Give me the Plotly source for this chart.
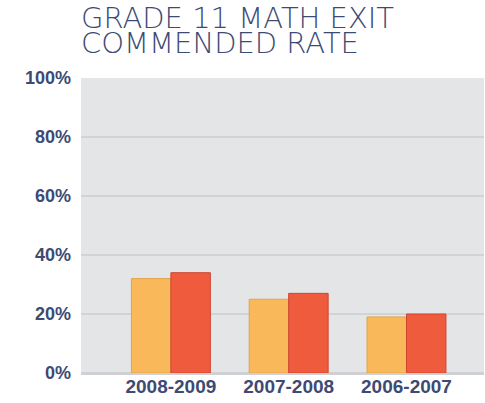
import plotly.graph_objects as go

categories = ["2008-2009", "2007-2008", "2006-2007"]
series_a = [32, 25, 19]
series_b = [34, 27, 20]
tick_vals = [0, 20, 40, 60, 80, 100]
tick_text = ["0%", "20%", "40%", "60%", "80%", "100%"]
title_lines = ["GRADE 11 MATH EXIT", "COMMENDED RATE"]

navy = "#3d4a74"

fig = go.Figure()
fig.add_trace(go.Bar(x=categories, y=series_a, marker=dict(color="#f9b95b", line=dict(color="#e3a24a", width=1))))
fig.add_trace(go.Bar(x=categories, y=series_b, marker=dict(color="#ef5b3d", line=dict(color="#cf4630", width=1))))

W, H = 485, 403
ml, mr, mt, mb = 81, 1, 78, 30
ph = H - mt - mb

annotations = []
for i, (line, ypx) in enumerate(zip(title_lines, [18, 43])):
    annotations.append(dict(
        text=line, xref="paper", yref="paper", x=-0.004, y=1 + (mt - ypx) / ph,
        xanchor="left", yanchor="middle", showarrow=False,
        font=dict(family="DejaVu Sans", size=29, color=navy, weight=300),
    ))

fig.update_layout(
    width=W, height=H, margin=dict(l=ml, r=mr, t=mt, b=mb, autoexpand=False),
    paper_bgcolor="white", plot_bgcolor="#e4e5e7",
    barmode="group", bargap=0.33, bargroupgap=0,
    showlegend=False, annotations=annotations,
    xaxis=dict(type="category", range=[-0.763, 2.658], showgrid=False, ticks="",
               tickfont=dict(family="Liberation Sans", size=19, color=navy, weight="bold"),
               showline=False, zeroline=False),
    yaxis=dict(range=[0, 100], tickvals=tick_vals, ticktext=tick_text,
               showgrid=True, gridcolor="#d2d3d6", gridwidth=2,
               zeroline=True, zerolinecolor="#cfd0d3", zerolinewidth=3,
               tickfont=dict(family="Liberation Sans", size=18, color=navy, weight="bold"),
               ticks="", ticklabelstandoff=9),
)

fig.write_html("out.html", config={"displayModeBar": False},
               post_script="document.body.style.margin='0';document.body.style.overflow='hidden';")
